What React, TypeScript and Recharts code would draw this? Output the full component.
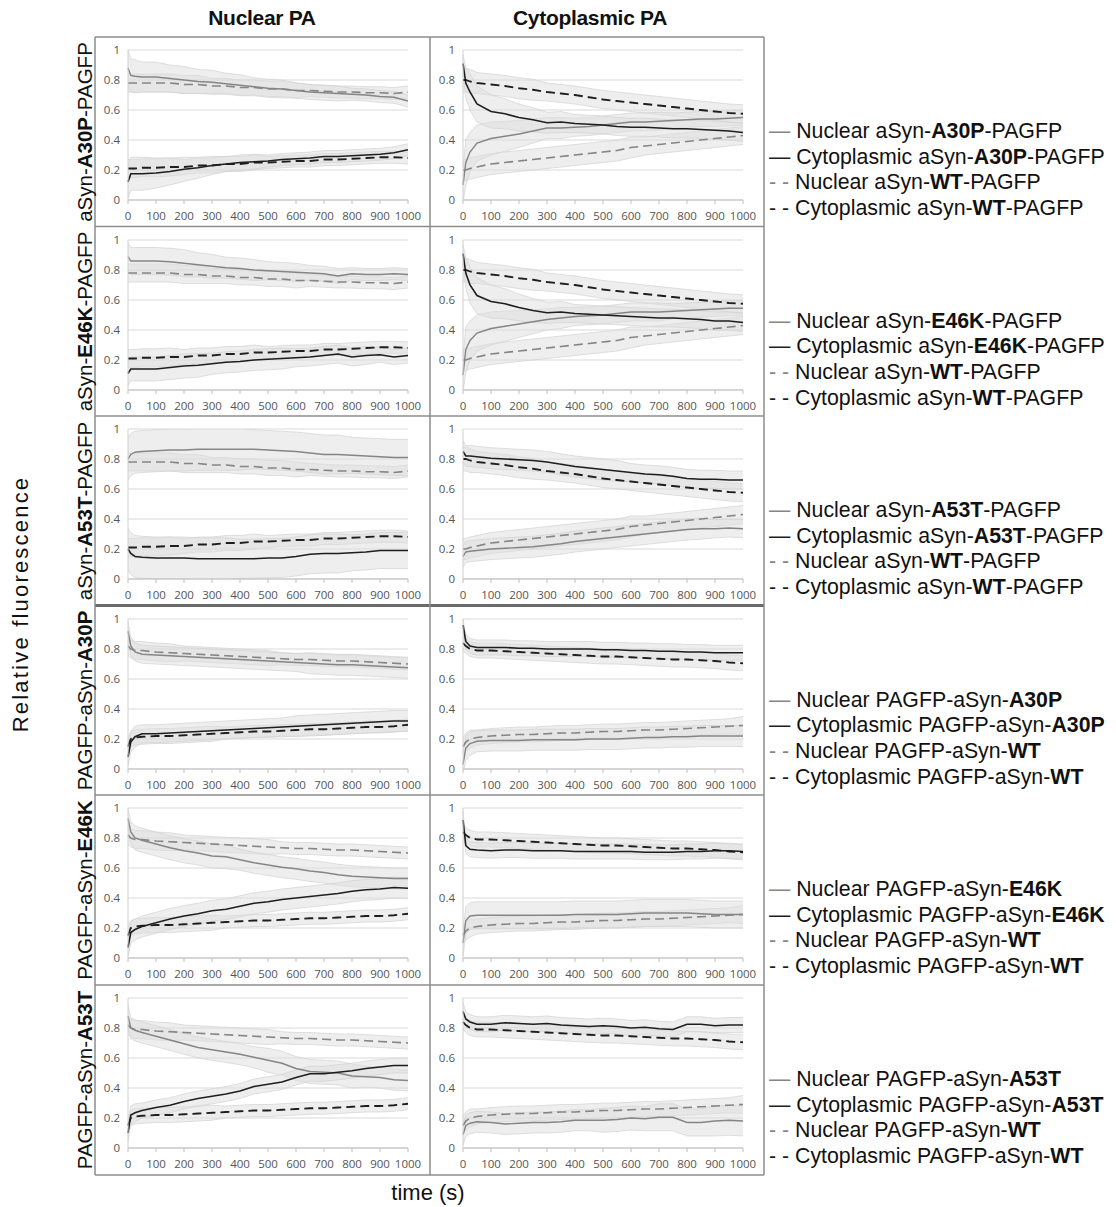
import React from "react";
import { Area, CartesianGrid, ComposedChart, Line, XAxis, YAxis } from "recharts";

// time points (s); values are % of initial fluorescence, sd = error bar half-width
const TIME = [0, 10, 25, 50, 100, 150, 200, 250, 300, 350, 400, 450, 500, 550, 600, 650, 700, 750, 800, 850, 900, 950, 1000];
const X_TICKS = [0, 100, 200, 300, 400, 500, 600, 700, 800, 900, 1000];
const Y_TICKS = [0, 20, 40, 60, 80, 100];

// WT controls, aSyn-WT-PAGFP
const WT_S_NPA_NUC = [78, 78, 78, 78, 78, 78, 77, 77, 76, 76, 75, 75, 74, 74, 73, 73, 72.5, 72, 72, 71.5, 71.5, 71, 72];
const WT_S_NPA_NUC_SD = [6, 6, 6, 6, 6, 6, 6, 6, 5, 5, 5, 5, 5, 5, 5, 4, 4, 4, 4, 4, 4, 4, 4];
const WT_S_NPA_CYT = [21, 21, 21, 21.5, 21.5, 22, 22, 23, 23, 24, 24, 25, 25, 25.5, 26, 26, 27, 27, 27.5, 28, 28.5, 28.5, 28];
const WT_S_NPA_CYT_SD = [6, 6, 6, 6, 6, 6, 5, 5, 5, 5, 5, 5, 4, 4, 4, 4, 4, 4, 4, 4, 4, 4, 4];
const WT_S_CPA_CYT = [80, 80, 79, 78, 77, 76, 74.5, 73.5, 72, 71, 70, 68.5, 67, 66, 65, 64, 63, 62, 61, 60, 59, 58, 57.5];
const WT_S_CPA_CYT_SD = [8, 8, 8, 7, 7, 7, 7, 7, 6, 6, 6, 6, 6, 6, 6, 6, 6, 6, 6, 6, 6, 6, 6];
const WT_S_CPA_NUC = [20, 20, 21, 22, 24, 25, 26, 27, 28, 29, 30, 31, 32, 33, 35, 36, 37, 38, 39, 40, 41, 42, 43];
const WT_S_CPA_NUC_SD = [7, 7, 7, 7, 7, 7, 7, 7, 7, 7, 7, 7, 7, 7, 7, 6, 6, 6, 6, 6, 6, 6, 6];

// WT controls, PAGFP-aSyn-WT
const WT_P_NPA_NUC = [82, 80, 79, 79, 78, 77.5, 77, 76.5, 76, 75.5, 75, 74.5, 74, 73.5, 73, 73, 72.5, 72, 72, 71.5, 71, 70.5, 70];
const WT_P_NPA_NUC_SD = [6, 6, 6, 6, 6, 6, 5, 5, 5, 5, 5, 5, 5, 4, 4, 4, 4, 4, 4, 4, 4, 4, 4];
const WT_P_NPA_CYT = [15, 20, 21, 21.5, 22, 22, 22.5, 23, 23.5, 24, 24.5, 25, 25, 25.5, 26, 26.5, 26.5, 27, 27.5, 28, 28, 28.5, 29.5];
const WT_P_NPA_CYT_SD = [6, 5, 5, 5, 5, 5, 5, 5, 5, 4, 4, 4, 4, 4, 4, 4, 4, 4, 4, 4, 4, 4, 4];
const WT_P_CPA_CYT = [84, 82, 80, 79, 79, 78.5, 78, 77.5, 77, 76.5, 76, 75.5, 75, 75, 74.5, 74, 73.5, 73, 73, 72.5, 72, 71, 70.5];
const WT_P_CPA_CYT_SD = [5, 5, 5, 5, 5, 5, 5, 5, 5, 5, 5, 5, 5, 5, 5, 5, 5, 5, 5, 5, 5, 5, 5];
const WT_P_CPA_NUC = [15, 18, 20, 21, 22, 22.5, 23, 23, 23.5, 24, 24, 24.5, 25, 25, 25.5, 26, 26, 26.5, 27, 27.5, 28, 28.5, 29];
const WT_P_CPA_NUC_SD = [6, 6, 6, 5, 5, 5, 5, 5, 5, 5, 5, 5, 5, 5, 5, 5, 5, 5, 5, 5, 5, 5, 6];

// aSyn-A30P-PAGFP
const S_A30P_NPA_NUC = [88, 83, 82.5, 82, 82, 81, 80, 79, 78.5, 77.5, 76.5, 75.5, 74.5, 74, 73, 72, 71.5, 71, 70.5, 70, 69, 68.5, 66];
const S_A30P_NPA_NUC_SD = [12, 11, 11, 10, 10, 9, 9, 8, 8, 7, 7, 6, 6, 6, 5, 5, 5, 5, 4, 4, 4, 4, 4];
const S_A30P_NPA_CYT = [12, 17.5, 17.5, 17.5, 18, 19, 20.5, 21.5, 23, 24, 25, 25.5, 26, 27, 27.5, 28, 29, 29, 29.5, 30, 30.5, 31.5, 33.5];
const S_A30P_NPA_CYT_SD = [11, 11, 11, 11, 10, 9, 8, 7, 6, 5, 5, 5, 4, 4, 4, 4, 4, 4, 4, 4, 4, 4, 4];
const S_A30P_CPA_CYT = [91, 78, 72, 64, 59, 57.5, 55, 53.5, 51.5, 52, 51, 50.5, 50, 49, 48.5, 48.5, 48, 47.5, 47.5, 47, 46.5, 46, 45];
const S_A30P_CPA_CYT_SD = [6, 10, 12, 12, 11, 10, 9, 8, 7, 7, 6, 6, 6, 6, 6, 6, 6, 6, 6, 6, 6, 6, 6];
const S_A30P_CPA_NUC = [10, 25, 32, 38, 41, 42.5, 44, 46, 48, 48, 48.5, 49, 50, 51, 52, 52, 52.5, 53, 53.5, 54, 54, 54.5, 55];
const S_A30P_CPA_NUC_SD = [12, 15, 13, 12, 11, 10, 9, 8, 7, 7, 6, 6, 6, 6, 6, 6, 6, 5, 5, 5, 5, 5, 5];

// aSyn-E46K-PAGFP
const S_E46K_NPA_NUC = [89, 86, 86, 86, 86, 85.5, 84.5, 83.5, 82.5, 81.5, 81, 80, 79.5, 79, 78.5, 78, 77.5, 76, 77.5, 77, 77, 77.5, 77];
const S_E46K_NPA_NUC_SD = [9, 9, 9, 9, 9, 9, 9, 8, 8, 7, 7, 7, 6, 6, 6, 5, 5, 5, 4, 4, 4, 4, 4];
const S_E46K_NPA_CYT = [11, 14, 14, 14, 14, 15, 16, 16.5, 17.5, 18.5, 19, 20, 20.5, 21, 21.5, 22, 23, 24, 22, 23, 23.5, 22, 23];
const S_E46K_NPA_CYT_SD = [8, 8, 8, 8, 8, 8, 8, 8, 7, 7, 7, 7, 7, 7, 6, 6, 6, 6, 6, 6, 5, 5, 5];
const S_E46K_CPA_CYT = [91, 78, 70, 63, 59, 57.5, 55, 53, 51.5, 52, 51, 50.5, 50, 49.5, 49, 48.5, 48, 48, 47.5, 47, 46, 46, 45];
const S_E46K_CPA_CYT_SD = [6, 10, 12, 12, 11, 10, 9, 8, 7, 7, 6, 6, 6, 6, 6, 6, 6, 6, 6, 6, 6, 6, 6];
const S_E46K_CPA_NUC = [10, 27, 33, 38, 41, 42.5, 44, 45.5, 47, 48, 49, 49.5, 50, 51, 52, 52, 52, 52.5, 53, 53.5, 54, 54.5, 54.5];
const S_E46K_CPA_NUC_SD = [12, 15, 13, 12, 11, 10, 9, 8, 7, 7, 6, 6, 6, 6, 6, 6, 6, 5, 5, 5, 5, 5, 5];

// aSyn-A53T-PAGFP
const S_A53T_NPA_NUC = [80, 83, 84.5, 85, 85.5, 86, 86, 86.5, 86.5, 86.5, 86.5, 86.5, 86, 85.5, 85, 84, 83, 83, 82.5, 82, 81.5, 81, 81];
const S_A53T_NPA_NUC_SD = [14, 14, 14, 14, 14, 14, 14, 14, 14, 14, 14, 13, 13, 13, 13, 13, 13, 13, 12, 12, 12, 12, 12];
const S_A53T_NPA_CYT = [20, 17, 15, 14.5, 14, 14, 14, 13.5, 13.5, 13.5, 13.5, 13.5, 14, 14, 15, 16.5, 17, 17, 17.5, 18, 19, 19, 19];
const S_A53T_NPA_CYT_SD = [14, 14, 14, 14, 14, 14, 14, 14, 14, 14, 13, 13, 13, 13, 13, 13, 13, 13, 12, 12, 12, 12, 12];
const S_A53T_CPA_CYT = [85, 82, 82, 81.5, 80.5, 80, 79.5, 79, 78, 76.5, 75, 74, 73, 72, 71, 70, 69.5, 68.5, 67, 66.5, 66.5, 66, 66];
const S_A53T_CPA_CYT_SD = [7, 7, 7, 7, 7, 7, 7, 7, 7, 7, 7, 7, 7, 7, 6, 6, 6, 6, 6, 6, 6, 6, 6];
const S_A53T_CPA_NUC = [15, 18, 18.5, 19, 20, 20.5, 21, 21.5, 22.5, 23.5, 25, 26, 27, 28, 29, 30, 31, 32, 33, 33.5, 33.5, 34, 33.5];
const S_A53T_CPA_NUC_SD = [7, 7, 7, 7, 7, 7, 7, 7, 7, 7, 7, 7, 7, 7, 7, 7, 7, 7, 7, 7, 6, 6, 6];

// PAGFP-aSyn-A30P
const P_A30P_NPA_NUC = [92, 82, 78, 76.5, 76, 75.5, 75, 74.5, 74, 73.5, 73, 72.5, 72, 71.5, 71, 70.5, 70, 69.5, 69.5, 69, 68.5, 68, 67.5];
const P_A30P_NPA_NUC_SD = [6, 6, 6, 6, 6, 6, 6, 6, 6, 6, 6, 6, 6, 6, 6, 7, 7, 7, 7, 7, 7, 7, 7];
const P_A30P_NPA_CYT = [8, 18, 21.5, 23.5, 23.5, 24, 24.5, 25, 25.5, 26, 26.5, 27, 27.5, 28, 28.5, 29, 29.5, 30, 30.5, 31, 31.5, 32, 32];
const P_A30P_NPA_CYT_SD = [6, 7, 7, 6, 6, 6, 6, 6, 6, 6, 6, 6, 6, 6, 7, 7, 7, 7, 7, 7, 7, 7, 7];
const P_A30P_CPA_CYT = [96, 85, 82, 81, 81, 81, 80.5, 80.5, 80, 80, 80, 80, 79.5, 79.5, 79, 79, 78.5, 78.5, 78, 78, 77.5, 77.5, 77.5];
const P_A30P_CPA_CYT_SD = [4, 5, 5, 5, 5, 5, 5, 5, 5, 5, 5, 5, 5, 5, 5, 5, 5, 5, 5, 5, 5, 5, 5];
const P_A30P_CPA_NUC = [3, 14, 17, 18.5, 19, 19, 19, 19.5, 19.5, 19.5, 19.5, 20, 20, 20, 20.5, 21, 21, 21.5, 21.5, 22, 22, 22, 22];
const P_A30P_CPA_NUC_SD = [7, 8, 8, 7, 7, 7, 7, 7, 7, 7, 7, 7, 7, 7, 7, 7, 7, 7, 7, 7, 7, 7, 7];

// PAGFP-aSyn-E46K
const P_E46K_NPA_NUC = [93, 84, 80, 78.5, 76, 73.5, 71.5, 70, 68, 67.5, 65.5, 63.5, 62, 60.5, 59.5, 58, 57, 55.5, 54.5, 54, 53.5, 53, 53];
const P_E46K_NPA_NUC_SD = [6, 7, 8, 8, 8, 8, 8, 8, 8, 8, 7, 7, 7, 7, 7, 7, 7, 7, 7, 7, 7, 7, 7];
const P_E46K_NPA_CYT = [7, 17, 19, 21, 23.5, 26, 28, 29.5, 31.5, 32.5, 34.5, 36.5, 37.5, 39, 40, 41, 42, 43, 44.5, 45.5, 46, 47, 46.5];
const P_E46K_NPA_CYT_SD = [6, 7, 7, 7, 7, 7, 7, 7, 7, 7, 7, 7, 7, 7, 7, 7, 7, 7, 7, 7, 7, 7, 7];
const P_E46K_CPA_CYT = [92, 75, 72.5, 72, 71.5, 72, 72, 71.5, 71.5, 71.5, 71, 71, 71, 71, 71, 70.5, 70.5, 70.5, 71, 71, 71.5, 71.5, 71];
const P_E46K_CPA_CYT_SD = [6, 5, 5, 5, 5, 5, 5, 5, 5, 5, 5, 5, 5, 5, 5, 5, 5, 5, 5, 5, 5, 5, 5];
const P_E46K_CPA_NUC = [10, 25, 28, 28.5, 28.5, 28.5, 28.5, 28.5, 28.5, 28.5, 29, 29, 29, 29, 29.5, 30, 30, 30, 30, 29.5, 29, 29, 29];
const P_E46K_CPA_NUC_SD = [9, 9, 9, 9, 9, 9, 9, 9, 9, 9, 9, 9, 9, 9, 9, 9, 9, 9, 9, 9, 9, 9, 9];

// PAGFP-aSyn-A53T
const P_A53T_NPA_NUC = [88, 80, 78.5, 77, 74.5, 72, 69.5, 67, 65.5, 64, 62.5, 60.5, 58.5, 56.5, 53, 51, 50.5, 50, 48, 47.5, 47, 45.5, 45];
const P_A53T_NPA_NUC_SD = [7, 7, 7, 7, 7, 7, 7, 7, 7, 7, 7, 7, 8, 8, 8, 8, 8, 8, 8, 7, 7, 7, 7];
const P_A53T_NPA_CYT = [10, 22, 23.5, 25, 27, 28.5, 31, 33, 34.5, 36, 38, 41, 42.5, 44, 47, 49.5, 49.5, 50.5, 51.5, 53, 54, 55, 55];
const P_A53T_NPA_CYT_SD = [6, 6, 6, 5, 5, 5, 5, 5, 5, 5, 5, 5, 5, 5, 5, 5, 5, 5, 5, 5, 5, 5, 5];
const P_A53T_CPA_CYT = [91, 86, 84, 82.5, 82.5, 83.5, 83, 82.5, 83, 82, 81.5, 81, 81.5, 81, 80, 80.5, 79.5, 79, 82.5, 82.5, 81.5, 82, 82];
const P_A53T_CPA_CYT_SD = [6, 5, 5, 5, 5, 5, 5, 5, 5, 5, 5, 5, 5, 5, 5, 5, 5, 5, 5, 5, 5, 5, 5];
const P_A53T_CPA_NUC = [9, 15, 16.5, 17.5, 17, 16, 16.5, 17, 17, 17.5, 18.5, 18.5, 18.5, 19, 20, 19.5, 20.5, 20.5, 17, 17, 18, 18.5, 18];
const P_A53T_CPA_NUC_SD = [7, 7, 7, 7, 7, 7, 7, 7, 7, 7, 7, 7, 8, 8, 8, 8, 9, 9, 9, 9, 10, 10, 10];

const MUTANTS = ["A30P", "E46K", "A53T", "A30P", "E46K", "A53T"];
const COL_TITLES = ["Nuclear PA", "Cytoplasmic PA"];

type Panel = {
  nuc: number[]; nucSd: number[]; cyt: number[]; cytSd: number[];
  wtNuc: number[]; wtNucSd: number[]; wtCyt: number[]; wtCytSd: number[];
};

const sNpa = (nuc: number[], nucSd: number[], cyt: number[], cytSd: number[]): Panel => ({
  nuc, nucSd, cyt, cytSd,
  wtNuc: WT_S_NPA_NUC, wtNucSd: WT_S_NPA_NUC_SD, wtCyt: WT_S_NPA_CYT, wtCytSd: WT_S_NPA_CYT_SD,
});
const sCpa = (nuc: number[], nucSd: number[], cyt: number[], cytSd: number[]): Panel => ({
  nuc, nucSd, cyt, cytSd,
  wtNuc: WT_S_CPA_NUC, wtNucSd: WT_S_CPA_NUC_SD, wtCyt: WT_S_CPA_CYT, wtCytSd: WT_S_CPA_CYT_SD,
});
const pNpa = (nuc: number[], nucSd: number[], cyt: number[], cytSd: number[]): Panel => ({
  nuc, nucSd, cyt, cytSd,
  wtNuc: WT_P_NPA_NUC, wtNucSd: WT_P_NPA_NUC_SD, wtCyt: WT_P_NPA_CYT, wtCytSd: WT_P_NPA_CYT_SD,
});
const pCpa = (nuc: number[], nucSd: number[], cyt: number[], cytSd: number[]): Panel => ({
  nuc, nucSd, cyt, cytSd,
  wtNuc: WT_P_CPA_NUC, wtNucSd: WT_P_CPA_NUC_SD, wtCyt: WT_P_CPA_CYT, wtCytSd: WT_P_CPA_CYT_SD,
});

// [row][column]
const PANELS: Panel[][] = [
  [sNpa(S_A30P_NPA_NUC, S_A30P_NPA_NUC_SD, S_A30P_NPA_CYT, S_A30P_NPA_CYT_SD), sCpa(S_A30P_CPA_NUC, S_A30P_CPA_NUC_SD, S_A30P_CPA_CYT, S_A30P_CPA_CYT_SD)],
  [sNpa(S_E46K_NPA_NUC, S_E46K_NPA_NUC_SD, S_E46K_NPA_CYT, S_E46K_NPA_CYT_SD), sCpa(S_E46K_CPA_NUC, S_E46K_CPA_NUC_SD, S_E46K_CPA_CYT, S_E46K_CPA_CYT_SD)],
  [sNpa(S_A53T_NPA_NUC, S_A53T_NPA_NUC_SD, S_A53T_NPA_CYT, S_A53T_NPA_CYT_SD), sCpa(S_A53T_CPA_NUC, S_A53T_CPA_NUC_SD, S_A53T_CPA_CYT, S_A53T_CPA_CYT_SD)],
  [pNpa(P_A30P_NPA_NUC, P_A30P_NPA_NUC_SD, P_A30P_NPA_CYT, P_A30P_NPA_CYT_SD), pCpa(P_A30P_CPA_NUC, P_A30P_CPA_NUC_SD, P_A30P_CPA_CYT, P_A30P_CPA_CYT_SD)],
  [pNpa(P_E46K_NPA_NUC, P_E46K_NPA_NUC_SD, P_E46K_NPA_CYT, P_E46K_NPA_CYT_SD), pCpa(P_E46K_CPA_NUC, P_E46K_CPA_NUC_SD, P_E46K_CPA_CYT, P_E46K_CPA_CYT_SD)],
  [pNpa(P_A53T_NPA_NUC, P_A53T_NPA_NUC_SD, P_A53T_NPA_CYT, P_A53T_NPA_CYT_SD), pCpa(P_A53T_CPA_NUC, P_A53T_CPA_NUC_SD, P_A53T_CPA_CYT, P_A53T_CPA_CYT_SD)],
];

const ROW_TOP = [37, 226.5, 416, 605.5, 795, 985];
const ROW_BOTTOM = 1175;
const COL_LEFT = [95, 430];
const COL_RIGHT = 764;
const PANEL_W = 336;
const PANEL_H = 190;

const GRAY = "#858585";
const BLACK = "#1e1e1e";

function toRows(p: Panel) {
  return TIME.map((t, i) => ({
    t,
    nuc: p.nuc[i],
    cyt: p.cyt[i],
    wtNuc: p.wtNuc[i],
    wtCyt: p.wtCyt[i],
    nucBand: [p.nuc[i] - p.nucSd[i], p.nuc[i] + p.nucSd[i]],
    cytBand: [p.cyt[i] - p.cytSd[i], p.cyt[i] + p.cytSd[i]],
    wtNucBand: [p.wtNuc[i] - p.wtNucSd[i], p.wtNuc[i] + p.wtNucSd[i]],
    wtCytBand: [p.wtCyt[i] - p.wtCytSd[i], p.wtCyt[i] + p.wtCytSd[i]],
  }));
}

const yFmt = (v: number) => (v === 0 ? "0" : v === 100 ? "1" : String(v / 100));
const tickFont = { fontSize: 11.5, fill: "#555", stroke: "none", fontFamily: "Open Sans" };

function PanelChart({ panel }: { panel: Panel }) {
  const data = toRows(panel);
  const band = { stroke: "#d2d2d2", strokeWidth: 0.7, fill: "#dedede", fillOpacity: 0.5 };
  return (
    <ComposedChart width={PANEL_W} height={PANEL_H} data={data} margin={{ top: 13, right: 23, bottom: 0, left: 0 }}>
      <CartesianGrid vertical={false} stroke="#d9d9d9" />
      <XAxis
        dataKey="t"
        type="number"
        domain={[0, 1000]}
        ticks={X_TICKS}
        interval={0}
        height={27}
        tick={tickFont}
        tickSize={4}
        tickMargin={8}
        tickLine={{ stroke: "#bfbfbf" }}
        axisLine={{ stroke: "#bfbfbf" }}
      />
      <YAxis
        type="number"
        domain={[0, 100]}
        ticks={Y_TICKS}
        width={33}
        allowDataOverflow
        tickFormatter={yFmt}
        tick={tickFont}
        tickLine={false}
        tickMargin={2}
        axisLine={{ stroke: "#d0d0d0" }}
      />
      <Area type="linear" dataKey="wtNucBand" {...band} dot={false} activeDot={false} isAnimationActive={false} />
      <Area type="linear" dataKey="wtCytBand" {...band} dot={false} activeDot={false} isAnimationActive={false} />
      <Area type="linear" dataKey="nucBand" {...band} dot={false} activeDot={false} isAnimationActive={false} />
      <Area type="linear" dataKey="cytBand" {...band} dot={false} activeDot={false} isAnimationActive={false} />
      <Line type="linear" dataKey="wtNuc" stroke={GRAY} strokeWidth={1.7} strokeDasharray="9 5" dot={false} activeDot={false} isAnimationActive={false} />
      <Line type="linear" dataKey="wtCyt" stroke={BLACK} strokeWidth={1.8} strokeDasharray="9 5" dot={false} activeDot={false} isAnimationActive={false} />
      <Line type="linear" dataKey="nuc" stroke={GRAY} strokeWidth={1.4} dot={false} activeDot={false} isAnimationActive={false} />
      <Line type="linear" dataKey="cyt" stroke={BLACK} strokeWidth={1.6} dot={false} activeDot={false} isAnimationActive={false} />
    </ComposedChart>
  );
}

function construct(row: number, name: string) {
  // rows 1-3: aSyn-X-PAGFP, rows 4-6: PAGFP-aSyn-X
  return row < 3
    ? [<tspan key="a">aSyn-</tspan>, <tspan key="b" fontWeight="bold">{name}</tspan>, <tspan key="c">-PAGFP</tspan>]
    : [<tspan key="a">PAGFP-aSyn-</tspan>, <tspan key="b" fontWeight="bold">{name}</tspan>];
}

function Legend({ row }: { row: number }) {
  const top = ROW_TOP[row] + 101;
  const items = [
    { sym: "\u2014", color: GRAY, loc: "Nuclear", name: MUTANTS[row] },
    { sym: "\u2014", color: BLACK, loc: "Cytoplasmic", name: MUTANTS[row] },
    { sym: "- -", color: GRAY, loc: "Nuclear", name: "WT" },
    { sym: "- -", color: BLACK, loc: "Cytoplasmic", name: "WT" },
  ];
  return (
    <g>
      {items.map((it, i) => (
        <text key={i} x={769} y={top + i * 25.7} fontSize={21.3} fill="#111">
          <tspan fill={it.color}>{it.sym + "\u00a0"}</tspan>
          <tspan>{it.loc + "\u00a0"}</tspan>
          {construct(row, it.name)}
        </text>
      ))}
    </g>
  );
}

export default function App() {
  const frame = "#8c8c8c";
  return (
    <div style={{ position: "absolute", left: 0, top: 0, width: 1116, height: 1207, background: "#fff", fontFamily: "'Liberation Sans', Arial, sans-serif" }}>
      {PANELS.map((cols, r) =>
        cols.map((p, c) => (
          <div key={`${r}-${c}`} style={{ position: "absolute", left: COL_LEFT[c], top: ROW_TOP[r] }}>
            <PanelChart panel={p} />
          </div>
        ))
      )}
      <svg width={1116} height={1207} style={{ position: "absolute", left: 0, top: 0, pointerEvents: "none" }} fontFamily="'Liberation Sans', Arial, sans-serif">
        {/* frame */}
        {[...ROW_TOP, ROW_BOTTOM].map((y, i) => (
          <line key={`h${i}`} x1={COL_LEFT[0]} x2={COL_RIGHT} y1={y} y2={y} stroke={i === 3 ? "#6a6a6a" : frame} strokeWidth={i === 3 ? 3 : 1.5} />
        ))}
        {[COL_LEFT[0], COL_LEFT[1], COL_RIGHT].map((x, i) => (
          <line key={`v${i}`} x1={x} x2={x} y1={ROW_TOP[0]} y2={ROW_BOTTOM} stroke={frame} strokeWidth={1.5} />
        ))}
        {/* column titles */}
        {COL_TITLES.map((t, i) => (
          <text key={t} x={i === 0 ? 262 : 590} y={25} textAnchor="middle" fontSize={21} fontWeight="bold" fill="#111" letterSpacing={-0.3}>
            {t}
          </text>
        ))}
        {/* row labels */}
        {MUTANTS.map((m, r) => {
          const cy = ROW_TOP[r] + 95;
          return (
            <text key={r} x={85} y={cy + 7} textAnchor="middle" fontSize={20.5} fill="#111" transform={`rotate(-90, 85, ${cy})`}>
              {construct(r, m)}
            </text>
          );
        })}
        <text x={18} y={614} textAnchor="middle" fontSize={22} letterSpacing={2.2} fill="#111" transform="rotate(-90, 18, 604)">
          Relative fluorescence
        </text>
        <text x={428} y={1200} textAnchor="middle" fontSize={22} fill="#111">
          time (s)
        </text>
        {MUTANTS.map((_, r) => (
          <Legend key={r} row={r} />
        ))}
      </svg>
    </div>
  );
}
